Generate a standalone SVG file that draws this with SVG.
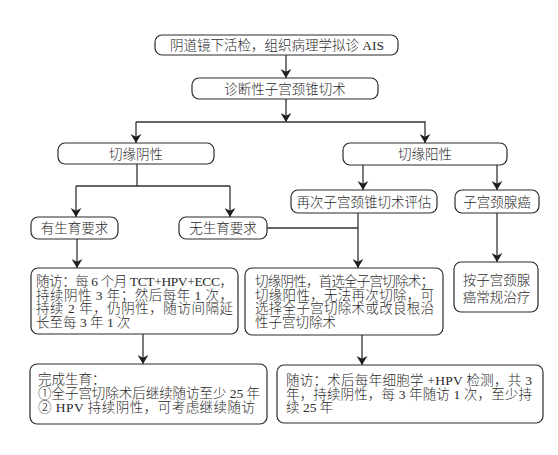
<svg xmlns="http://www.w3.org/2000/svg" width="558" height="455" viewBox="0 0 558 455">
<style>
.box{fill:#fff;stroke:#2b2b2b;stroke-width:1.2}
.t{font-family:"Liberation Serif","Noto Sans CJK SC",serif;font-size:13.5px;font-weight:300;fill:#2a2a2a}
.l{font-weight:400}
.c{text-anchor:middle}
.ln{fill:none;stroke:#333;stroke-width:1.3}
</style>
<defs>
<marker id="ah" viewBox="0 0 10 12" refX="10" refY="6" markerWidth="9" markerHeight="11" orient="auto" markerUnits="userSpaceOnUse">
<path d="M0,0 L10,6 L0,12 L3,6 z" fill="#1e1e1e"/>
</marker>
</defs>
<rect width="558" height="455" fill="#fff"/>
<g id="connectors">
<path class="ln" d="M286,55 V78" marker-end="url(#ah)"/>
<path class="ln" d="M286,99 V122" marker-end="url(#ah)"/>
<path class="ln" d="M136,122 H425 V143" marker-end="url(#ah)"/>
<path class="ln" d="M136,122 V143" marker-end="url(#ah)"/>
<path class="ln" d="M137,164 V186 M76,186 H230"/>
<path class="ln" d="M76,186 V217" marker-end="url(#ah)"/>
<path class="ln" d="M230,186 V217" marker-end="url(#ah)"/>
<path class="ln" d="M363,165 V190" marker-end="url(#ah)"/>
<path class="ln" d="M497,165 V190" marker-end="url(#ah)"/>
<path class="ln" d="M77,239 V268" marker-end="url(#ah)"/>
<path class="ln" d="M267,228 H358"/>
<path class="ln" d="M358,213 V268" marker-end="url(#ah)"/>
<path class="ln" d="M497,213 V262" marker-end="url(#ah)"/>
<path class="ln" d="M143,334 V364" marker-end="url(#ah)"/>
<path class="ln" d="M362,335 V365" marker-end="url(#ah)"/>
</g>
<g id="n1"><rect class="box" x="155" y="35" width="243" height="20" rx="7"/><text class="t c" x="277" y="50">阴道镜下活检，组织病理学拟诊<tspan class="l"> AIS</tspan></text></g>
<g id="n2"><rect class="box" x="192" y="78" width="186" height="21" rx="7"/><text class="t c" x="285" y="93.5">诊断性子宫颈锥切术</text></g>
<g id="n3"><rect class="box" x="58" y="143" width="156" height="21" rx="7"/><text class="t c" x="136" y="158.5">切缘阴性</text></g>
<g id="n4"><rect class="box" x="343" y="143" width="164" height="22" rx="7"/><text class="t c" x="425" y="159">切缘阳性</text></g>
<g id="n5"><rect class="box" x="31" y="217" width="87" height="22" rx="7"/><text class="t c" x="74.5" y="233">有生育要求</text></g>
<g id="n6"><rect class="box" x="179" y="217" width="88" height="22" rx="7"/><text class="t c" x="223" y="233">无生育要求</text></g>
<g id="n7"><rect class="box" x="291" y="190" width="146" height="23" rx="7"/><text class="t c" x="364" y="206.5">再次子宫颈锥切术评估</text></g>
<g id="n8"><rect class="box" x="455" y="190" width="84" height="23" rx="7"/><text class="t c" x="497" y="206.5">子宫颈腺癌</text></g>
<g id="n9"><rect class="box" x="31" y="268" width="207" height="66" rx="7"/>
<text class="t" x="36" y="286" textLength="197" lengthAdjust="spacing">随访：每<tspan class="l"> 6 </tspan>个月<tspan class="l"> TCT+HPV+ECC</tspan>，</text>
<text class="t" x="36" y="299.5" textLength="197" lengthAdjust="spacing">持续阴性<tspan class="l"> 3 </tspan>年；然后每年<tspan class="l"> 1 </tspan>次，</text>
<text class="t" x="36" y="313" textLength="197" lengthAdjust="spacing">持续<tspan class="l"> 2 </tspan>年，仍阴性，随访间隔延</text>
<text class="t" x="36" y="326.5">长至每<tspan class="l"> 3 </tspan>年<tspan class="l"> 1 </tspan>次</text></g>
<g id="n10"><rect class="box" x="245" y="268" width="198" height="67" rx="7"/>
<text class="t" x="255" y="286" textLength="179" lengthAdjust="spacing">切缘阴性，首选全子宫切除术；</text>
<text class="t" x="255" y="299.5" textLength="179" lengthAdjust="spacing">切缘阳性，无法再次切除，可</text>
<text class="t" x="255" y="313" textLength="179" lengthAdjust="spacing">选择全子宫切除术或改良根治</text>
<text class="t" x="255" y="326.5">性子宫切除术</text></g>
<g id="n11"><rect class="box" x="454" y="262" width="84" height="50" rx="7"/>
<text class="t c" x="496.5" y="285">按子宫颈腺</text>
<text class="t c" x="496.5" y="302">癌常规治疗</text></g>
<g id="n12"><rect class="box" x="30" y="364" width="237" height="60" rx="7"/>
<text class="t" x="38" y="384">完成生育：</text>
<text class="t" x="38" y="398" textLength="222" lengthAdjust="spacing">①全子宫切除术后继续随访至少<tspan class="l"> 25 </tspan>年</text>
<text class="t" x="38" y="411.5" textLength="217" lengthAdjust="spacing">②<tspan class="l"> HPV </tspan>持续阴性，可考虑继续随访</text></g>
<g id="n13"><rect class="box" x="277" y="365" width="266" height="58" rx="7"/>
<text class="t" x="286" y="385" textLength="246" lengthAdjust="spacing">随访：术后每年细胞学<tspan class="l"> +HPV </tspan>检测，共<tspan class="l"> 3</tspan></text>
<text class="t" x="286" y="398.5" textLength="246" lengthAdjust="spacing">年，持续阴性，每<tspan class="l"> 3 </tspan>年随访<tspan class="l"> 1 </tspan>次，至少持</text>
<text class="t" x="286" y="412">续<tspan class="l"> 25 </tspan>年</text></g>
</svg>
